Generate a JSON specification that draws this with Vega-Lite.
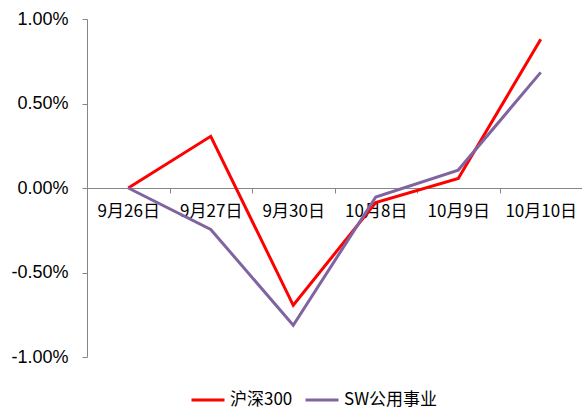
{
  "$schema": "https://vega.github.io/schema/vega-lite/v6.json",
  "width": 495,
  "height": 338,
  "autosize": {"type": "none"},
  "padding": {"left": 87, "top": 19, "right": 0, "bottom": 57},
  "background": "white",
  "config": {"view": {"stroke": null}},
  "data": {
    "values": [
      {"date": "9月26日", "series": "沪深300", "value": 0.0},
      {"date": "9月27日", "series": "沪深300", "value": 0.00306},
      {"date": "9月30日", "series": "沪深300", "value": -0.00694},
      {"date": "10月8日", "series": "沪深300", "value": -0.00086},
      {"date": "10月9日", "series": "沪深300", "value": 0.00056},
      {"date": "10月10日", "series": "沪深300", "value": 0.0088},
      {"date": "9月26日", "series": "SW公用事业", "value": 0.0},
      {"date": "9月27日", "series": "SW公用事业", "value": -0.00245},
      {"date": "9月30日", "series": "SW公用事业", "value": -0.00812},
      {"date": "10月8日", "series": "SW公用事业", "value": -0.00053},
      {"date": "10月9日", "series": "SW公用事业", "value": 0.00106},
      {"date": "10月10日", "series": "SW公用事业", "value": 0.00684}
    ]
  },
  "mark": {"type": "line", "strokeWidth": 3},
  "encoding": {
    "x": {
      "field": "date",
      "type": "nominal",
      "sort": ["9月26日", "9月27日", "9月30日", "10月8日", "10月9日", "10月10日"],
      "scale": {"paddingInner": 0, "paddingOuter": 0},
      "axis": {
        "title": null,
        "orient": "bottom",
        "offset": -169,
        "labelAngle": 0,
        "tickBand": "extent",
        "tickSize": 5,
        "tickColor": "#868686",
        "domainColor": "#868686",
        "labelPadding": 10,
        "labelFont": "Noto Sans CJK SC",
        "labelFontSize": 17,
        "labelColor": "#000000",
        "grid": false
      }
    },
    "y": {
      "field": "value",
      "type": "quantitative",
      "scale": {"domain": [-0.01, 0.01], "nice": false, "zero": false},
      "axis": {
        "title": null,
        "values": [-0.01, -0.005, 0, 0.005, 0.01],
        "format": ".2%",
        "labelExpr": "replace(datum.label, '\u2212', '-')",
        "grid": false,
        "tickSize": 5,
        "tickColor": "#868686",
        "domainColor": "#868686",
        "labelPadding": 14,
        "labelFont": "Liberation Sans",
        "labelFontSize": 18,
        "labelColor": "#000000"
      }
    },
    "color": {
      "field": "series",
      "type": "nominal",
      "scale": {"domain": ["沪深300", "SW公用事业"], "range": ["#FF0000", "#8064A2"]},
      "legend": {
        "title": null,
        "orient": "none",
        "legendX": 103,
        "legendY": 363,
        "direction": "horizontal",
        "symbolType": "stroke",
        "symbolSize": 1089,
        "symbolStrokeWidth": 3,
        "labelFont": "Noto Sans CJK SC",
        "labelFontSize": 17,
        "labelColor": "#000000",
        "columnPadding": 6,
        "labelOffset": 4
      }
    }
  }
}
